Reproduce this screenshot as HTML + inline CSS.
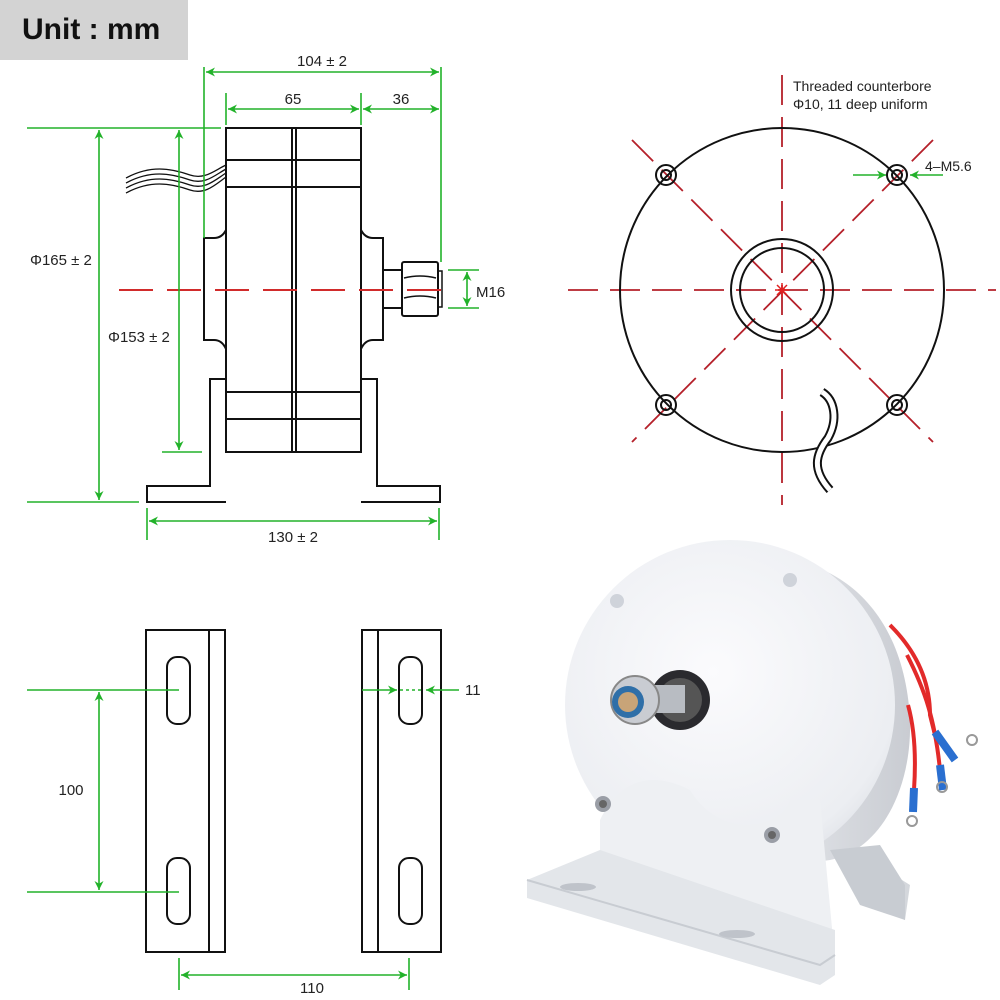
<!DOCTYPE html>
<html><head><meta charset="utf-8"><style>
html,body{margin:0;padding:0;background:#fff;}
svg{display:block;font-family:"Liberation Sans",sans-serif;}
</style></head><body>
<svg width="1000" height="1000" viewBox="0 0 1000 1000" xmlns="http://www.w3.org/2000/svg">
<defs>
<marker id="a" viewBox="0 0 10 10" refX="10" refY="5" markerWidth="9" markerHeight="9" orient="auto-start-reverse" markerUnits="userSpaceOnUse"><path d="M0,0 L10,5 L0,10 L3,5 Z" fill="#22b22a"/></marker>
<radialGradient id="face" cx="0.45" cy="0.4" r="0.7"><stop offset="0" stop-color="#fbfbfd"/><stop offset="0.8" stop-color="#eceef2"/><stop offset="1" stop-color="#d9dce2"/></radialGradient>
<linearGradient id="side" x1="0" x2="1"><stop offset="0" stop-color="#e6e8ec"/><stop offset="1" stop-color="#c9ccd2"/></linearGradient>
</defs>

<!-- Unit box -->
<rect x="0" y="0" width="188" height="60" fill="#d3d3d3"/>
<text x="22" y="39" font-size="30" font-weight="bold" fill="#111">Unit : mm</text>

<!-- ===== Side view ===== -->
<g stroke="#111" stroke-width="2" fill="none">
<rect x="226" y="128" width="135" height="324" fill="#fff"/>
<line x1="292" y1="128" x2="292" y2="452"/><line x1="296" y1="128" x2="296" y2="452"/>
<line x1="226" y1="160" x2="361" y2="160"/><line x1="226" y1="187" x2="361" y2="187"/>
<line x1="226" y1="392" x2="361" y2="392"/><line x1="226" y1="419" x2="361" y2="419"/>
<path d="M226,230 Q222,238 214,238 L204,238 L204,340 L214,340 Q222,340 226,349"/>
<path d="M361,230 Q365,238 373,238 L383,238 L383,340 L373,340 Q365,340 361,349"/>
<rect x="383" y="270" width="19" height="38"/>
<rect x="402" y="262" width="36" height="54" rx="2"/>
<path d="M404,278 Q420,274 436,278 M404,298 Q420,294 436,298" stroke-width="1.5"/>
<rect x="438" y="271" width="4" height="36" stroke-width="1.5"/>
<path d="M226,379 L210,379 L210,486 L147,486 L147,502 L226,502"/>
<path d="M361,379 L377,379 L377,486 L440,486 L440,502 L361,502"/>
<path d="M126,178 C150,165 170,168 190,175 C205,180 215,170 226,165" stroke-width="1.3"/>
<path d="M126,183 C150,170 170,173 190,180 C205,185 215,175 226,169" stroke-width="1.3"/>
<path d="M126,188 C150,175 170,178 190,185 C205,190 215,180 226,173" stroke-width="1.3"/>
<path d="M126,193 C150,180 170,183 190,190 C205,195 215,185 226,177" stroke-width="1.3"/>
</g>
<line x1="119" y1="290" x2="455" y2="290" stroke="#d12b2b" stroke-width="2" stroke-dasharray="34,14"/>

<g stroke="#22b22a" stroke-width="1.6" fill="none">
<line x1="204" y1="67" x2="204" y2="238"/><line x1="441" y1="67" x2="441" y2="262"/>
<line x1="206" y1="72" x2="439" y2="72" marker-start="url(#a)" marker-end="url(#a)"/>
<line x1="226" y1="93" x2="226" y2="125"/><line x1="361" y1="93" x2="361" y2="125"/>
<line x1="228" y1="109" x2="359" y2="109" marker-start="url(#a)" marker-end="url(#a)"/>
<line x1="363" y1="109" x2="439" y2="109" marker-start="url(#a)" marker-end="url(#a)"/>
<line x1="27" y1="128" x2="221" y2="128"/><line x1="27" y1="502" x2="139" y2="502"/>
<line x1="99" y1="130" x2="99" y2="500" marker-start="url(#a)" marker-end="url(#a)"/>
<line x1="179" y1="130" x2="179" y2="450" marker-start="url(#a)" marker-end="url(#a)"/>
<line x1="162" y1="452" x2="202" y2="452"/>
<line x1="448" y1="270" x2="479" y2="270"/><line x1="448" y1="308" x2="479" y2="308"/>
<line x1="467" y1="272" x2="467" y2="306" marker-start="url(#a)" marker-end="url(#a)"/>
<line x1="147" y1="508" x2="147" y2="540"/><line x1="439" y1="508" x2="439" y2="540"/>
<line x1="149" y1="521" x2="437" y2="521" marker-start="url(#a)" marker-end="url(#a)"/>
</g>
<g font-size="15" fill="#222">
<text x="322" y="66" text-anchor="middle">104 ± 2</text>
<text x="293" y="104" text-anchor="middle">65</text>
<text x="401" y="104" text-anchor="middle">36</text>
<text x="30" y="265">Φ165 ± 2</text>
<text x="108" y="342">Φ153 ± 2</text>
<text x="476" y="297">M16</text>
<text x="293" y="542" text-anchor="middle">130 ± 2</text>
</g>

<!-- ===== Front view ===== -->
<g stroke="#b5202a" stroke-width="1.8" stroke-dasharray="30,12" fill="none">
<line x1="568" y1="290" x2="996" y2="290"/>
<line x1="782" y1="75" x2="782" y2="505"/>
<line x1="632" y1="140" x2="933" y2="442"/>
<line x1="933" y1="140" x2="632" y2="442"/>
</g>
<g stroke="#111" stroke-width="2" fill="none">
<circle cx="782" cy="290" r="162"/>
<circle cx="782" cy="290" r="51"/>
<circle cx="782" cy="290" r="42"/>
<circle cx="666" cy="175" r="10"/><circle cx="666" cy="175" r="5"/>
<circle cx="897" cy="175" r="10"/><circle cx="897" cy="175" r="5"/>
<circle cx="666" cy="405" r="10"/><circle cx="666" cy="405" r="5"/>
<circle cx="897" cy="405" r="10"/><circle cx="897" cy="405" r="5"/>
<path d="M822,392 C835,400 838,420 828,438 C815,455 812,470 830,490" stroke-width="9" stroke="#111"/>
<path d="M822,392 C835,400 838,420 828,438 C815,455 812,470 830,490" stroke-width="5" stroke="#fff"/>
</g>
<path d="M777,285 L787,295 M787,285 L777,295 M782,283 L782,297 M775,290 L789,290" stroke="#e02020" stroke-width="1.5"/>
<g stroke="#22b22a" stroke-width="1.6">
<line x1="853" y1="175" x2="886" y2="175" marker-end="url(#a)"/>
<line x1="943" y1="175" x2="910" y2="175" marker-end="url(#a)"/>
</g>
<g font-size="14" fill="#222">
<text x="793" y="91">Threaded counterbore</text>
<text x="793" y="109">Φ10, 11 deep uniform</text>
<text x="925" y="171">4–M5.6</text>
</g>

<!-- ===== Bracket views ===== -->
<g stroke="#111" stroke-width="2" fill="none">
<rect x="146" y="630" width="79" height="322"/><line x1="209" y1="630" x2="209" y2="952"/>
<rect x="167" y="657" width="23" height="67" rx="10"/><rect x="167" y="858" width="23" height="66" rx="10"/>
<rect x="362" y="630" width="79" height="322"/><line x1="378" y1="630" x2="378" y2="952"/>
<rect x="399" y="657" width="23" height="67" rx="10"/><rect x="399" y="858" width="23" height="66" rx="10"/>
</g>
<g stroke="#22b22a" stroke-width="1.6" fill="none">
<line x1="27" y1="690" x2="179" y2="690"/><line x1="27" y1="892" x2="179" y2="892"/>
<line x1="99" y1="692" x2="99" y2="890" marker-start="url(#a)" marker-end="url(#a)"/>
<line x1="179" y1="958" x2="179" y2="990"/><line x1="409" y1="958" x2="409" y2="990"/>
<line x1="181" y1="975" x2="407" y2="975" marker-start="url(#a)" marker-end="url(#a)"/>
<line x1="362" y1="690" x2="397" y2="690" marker-end="url(#a)"/>
<line x1="459" y1="690" x2="426" y2="690" marker-end="url(#a)"/>
<line x1="400" y1="690" x2="422" y2="690" stroke-dasharray="3,3"/>
</g>
<g font-size="15" fill="#222">
<text x="71" y="795" text-anchor="middle">100</text>
<text x="312" y="993" text-anchor="middle">110</text>
<text x="465" y="695">11</text>
</g>

<!-- ===== Photo ===== -->
<g>
<path d="M860,900 L905,920 L910,885 L870,860 Z" fill="#d4d7dc"/>
<path d="M790,560 C850,570 905,620 910,720 C912,790 880,850 830,860 L760,870 Z" fill="url(#side)"/>
<path d="M830,850 L880,845 L905,885 L905,920 L860,905 Z" fill="#c8ccd2"/>
<circle cx="730" cy="705" r="165" fill="url(#face)"/>
<path d="M600,820 C620,780 650,770 690,790 C720,840 780,830 790,800 L820,800 L835,960 L820,970 L560,890 L600,860 Z" fill="#eef0f3"/>
<path d="M527,880 L600,850 L835,930 L835,975 L820,985 L527,898 Z" fill="#e3e6ea"/>
<path d="M527,880 L820,965 L835,955" stroke="#c8ccd2" stroke-width="2" fill="none"/>
<ellipse cx="578" cy="887" rx="18" ry="4" fill="#bfc3ca"/>
<ellipse cx="737" cy="934" rx="18" ry="4" fill="#bfc3ca"/>
<circle cx="617" cy="601" r="7" fill="#cfd3da"/>
<circle cx="790" cy="580" r="7" fill="#cfd3da"/>
<circle cx="603" cy="804" r="8" fill="#9a9ea6"/><circle cx="603" cy="804" r="4" fill="#666"/>
<circle cx="772" cy="835" r="8" fill="#9a9ea6"/><circle cx="772" cy="835" r="4" fill="#666"/>
<circle cx="680" cy="700" r="30" fill="#2a2a2e"/>
<circle cx="680" cy="700" r="22" fill="#555"/>
<rect x="640" y="685" width="45" height="28" fill="#b8bcc2"/>
<circle cx="635" cy="700" r="24" fill="#c9ccd2" stroke="#888" stroke-width="2"/>
<circle cx="628" cy="702" r="16" fill="#2f6fa8"/>
<circle cx="628" cy="702" r="10" fill="#c8a478"/>
<path d="M890,625 C915,650 930,680 930,715 L935,735" stroke="#e22a2a" stroke-width="4" fill="none"/>
<path d="M907,655 C925,690 935,720 940,770" stroke="#e22a2a" stroke-width="4" fill="none"/>
<path d="M908,705 C915,730 916,760 914,790" stroke="#e22a2a" stroke-width="4" fill="none"/>
<path d="M935,732 L955,760" stroke="#2a6fd0" stroke-width="8"/>
<path d="M940,765 L943,790" stroke="#2a6fd0" stroke-width="8"/>
<path d="M914,788 L913,812" stroke="#2a6fd0" stroke-width="8"/>
<circle cx="972" cy="740" r="5" fill="none" stroke="#999" stroke-width="2"/>
<circle cx="942" cy="787" r="5" fill="none" stroke="#999" stroke-width="2"/>
<circle cx="912" cy="821" r="5" fill="none" stroke="#999" stroke-width="2"/>
</g>
</svg>
</body></html>
